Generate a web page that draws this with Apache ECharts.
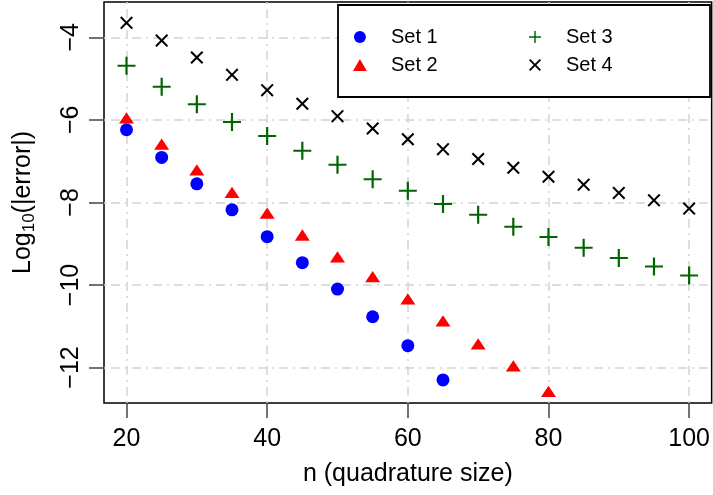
<!DOCTYPE html>
<html>
<head>
<meta charset="utf-8">
<script src="https://cdn.jsdelivr.net/npm/echarts@6/dist/echarts.min.js"></script>
<style>html,body{margin:0;padding:0;background:#fff}#c{width:713px;height:495px}</style>
</head>
<body>
<div id="c"></div>
<script>
// ---- data ----
var nValues = [20,25,30,35,40,45,50,55,60,65,70,75,80,85,90,95,100];
var set1 = [-6.24,-6.91,-7.55,-8.18,-8.83,-9.46,-10.10,-10.77,-11.47,-12.30,-13.01];
var set2 = [-5.95,-6.59,-7.21,-7.76,-8.26,-8.79,-9.32,-9.80,-10.34,-10.87,-11.43,-11.96,-12.58];
var set3 = [-4.69,-5.20,-5.62,-6.05,-6.39,-6.75,-7.09,-7.44,-7.72,-8.04,-8.30,-8.59,-8.84,-9.10,-9.35,-9.55,-9.77];
var set4 = [-3.65,-4.08,-4.49,-4.91,-5.28,-5.61,-5.91,-6.21,-6.47,-6.71,-6.95,-7.16,-7.38,-7.57,-7.77,-7.95,-8.15];
var xTicks = [20,40,60,80,100];
var yTicks = [-12,-10,-8,-6,-4];
var seriesNames = ['Set 1','Set 2','Set 3','Set 4'];

function pairs(vals){ return vals.map(function(v,i){ return [nValues[i], v]; }); }
var FONT = 'Liberation Sans, Arial, sans-serif';
var PLUS = 'path://M0,8 L7.9,8 L7.9,0 L10.1,0 L10.1,8 L18,8 L18,10 L10.1,10 L10.1,18 L7.9,18 L7.9,10 L0,10 Z';
var CROSS = 'path://M0,2 L2,0 L9,7 L16,0 L18,2 L11,9 L18,16 L16,18 L9,11 L2,18 L0,16 L7,9 Z';
var TRI = 'path://M7.5,0 L15,13 L0,13 Z';
var minus = function(v){ return String(v).replace('-', '\u2212'); };
var gridLine = {color:'#d3d3d3', width:1.5, type:[2,5,9,5]};

var chart = echarts.init(document.getElementById('c'));
chart.setOption({
  animation:false,
  backgroundColor:'#fff',
  grid:{left:104, top:2, right:1, bottom:92, show:true, borderColor:'#000', borderWidth:1.5, backgroundColor:'transparent'},
  xAxis:{
    type:'value', min:16.8, max:103.2,
    axisLine:{show:false},
    axisTick:{show:true, customValues:xTicks, length:15, lineStyle:{color:'#444', width:1.5}},
    axisLabel:{customValues:xTicks, margin:24, fontSize:25, fontFamily:FONT, color:'#000'},
    splitLine:{show:true, lineStyle:gridLine},
    name:'n (quadrature size)', nameLocation:'middle', nameGap:59,
    nameTextStyle:{fontSize:25, fontFamily:FONT, color:'#000'}
  },
  yAxis:{
    type:'value', min:-12.86, max:-3.145,
    axisLine:{show:false},
    axisTick:{show:true, customValues:yTicks, length:15, lineStyle:{color:'#444', width:1.5}},
    axisLabel:{customValues:yTicks, rotate:90, margin:20, fontSize:25, fontFamily:FONT, color:'#000', formatter:minus},
    splitLine:{show:true, lineStyle:gridLine},
    name:'{a|Log}{s|10}{a|(|error|)}', nameLocation:'middle', nameGap:66, nameRotate:90,
    nameTextStyle:{fontFamily:FONT, color:'#000', rich:{
      a:{fontSize:25, fontFamily:FONT, color:'#000', lineHeight:30},
      s:{fontSize:17, fontFamily:FONT, color:'#000', lineHeight:17, padding:[12,0,0,0]}
    }}
  },
  graphic:[{type:'rect', z:5, shape:{x:338, y:5, width:372, height:92}, style:{fill:'#fff', stroke:'#000', lineWidth:1.8}}],
  legend:[
    {data:['Set 1','Set 2'], orient:'vertical', left:353, top:27, itemWidth:52, itemHeight:12, itemGap:8, padding:0, z:10, selectedMode:false,
     textStyle:{fontSize:20, fontFamily:FONT, color:'#000'}},
    {data:['Set 3','Set 4'], orient:'vertical', left:529, top:27, itemWidth:52, itemHeight:12, itemGap:8, padding:0, z:10, selectedMode:false,
     textStyle:{fontSize:20, fontFamily:FONT, color:'#000'}}
  ],
  series:[
    {name:seriesNames[0], type:'scatter', data:pairs(set1), symbol:'circle', symbolSize:13, itemStyle:{color:'#0000ff', opacity:1}, clip:true},
    {name:seriesNames[1], type:'scatter', data:pairs(set2), symbol:TRI, symbolSize:[15,13], symbolKeepAspect:true, itemStyle:{color:'#ff0000', opacity:1}, clip:true},
    {name:seriesNames[2], type:'scatter', data:pairs(set3), symbol:PLUS, symbolSize:18, itemStyle:{color:'#006400', opacity:1}, clip:true},
    {name:seriesNames[3], type:'scatter', data:pairs(set4), symbol:CROSS, symbolSize:13, itemStyle:{color:'#000000', opacity:1}, clip:true}
  ]
});
</script>
</body>
</html>
